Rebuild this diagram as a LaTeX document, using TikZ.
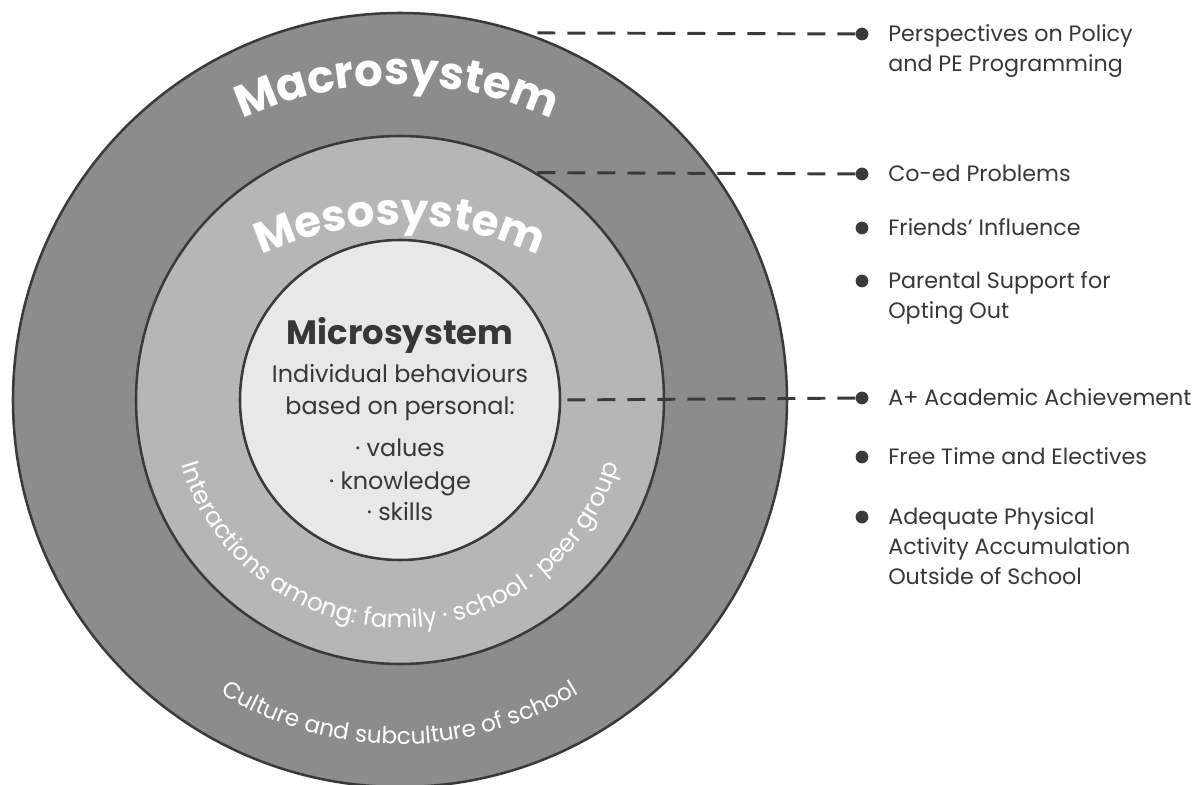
\documentclass[tikz,border=0pt]{standalone}
\usepackage{fontspec}
\setmainfont{Poppins}
\usetikzlibrary{decorations.text}
\definecolor{macrogray}{RGB}{140,140,140}
\definecolor{mesogray}{RGB}{182,182,182}
\definecolor{microgray}{RGB}{232,232,232}
\definecolor{linegray}{RGB}{58,58,58}
\definecolor{textgray}{RGB}{55,55,55}
\begin{document}
\begin{tikzpicture}
\tikzset{ring/.style={draw=linegray, line width=1.8pt, circle, inner sep=0pt},
  dot/.style={circle, fill=linegray, inner sep=0pt, minimum size=0.32cm},
  lbl/.style={anchor=base west, text=textgray, font=\fontsize{15.8}{21.3}\selectfont, align=left, inner sep=0pt},
  inlbl/.style={anchor=base, text=textgray, inner sep=0pt},
  dashline/.style={draw=linegray, line width=2.1pt, dash pattern=on 0.45cm off 0.3cm}}
\useasboundingbox (-10,-9.625) rectangle (19.925,10);
% the three systems
\node[ring, fill=macrogray, minimum size=19.35cm] (macro) at (0,0) {};
\node[ring, fill=mesogray, minimum size=13.2cm] (meso) at (0,0) {};
\node[ring, fill=microgray, minimum size=8cm] (micro) at (0,0) {};
% ring titles
\path[decorate, decoration={text along path, text align=center, text color=white,
  text={|\fontsize{32}{32}\bfseries\selectfont|Macrosystem}}]
  (-0.075,-1.375) ++(135:9.25) arc[start angle=135, end angle=45, radius=9.25];
\path[decorate, decoration={text along path, text align=center, text color=white,
  text={|\fontsize{31}{31}\bfseries\selectfont|Mesosystem}}]
  (0,-3.925) ++(130:8.3) arc[start angle=130, end angle=50, radius=8.3];
\path[decorate, decoration={text along path, text align=center, text color=white,
  text={|\fontsize{17.5}{17.5}\selectfont|Interactions among: family · school · peer group}}]
  (0,0) ++(175:5.7) arc[start angle=175, end angle=365, radius=5.7];
\path[decorate, decoration={text along path, text align=center, text color=white,
  text={|\fontsize{16.5}{16.5}\selectfont|Culture and subculture of school}}]
  (0,0) ++(200:8.6) arc[start angle=200, end angle=340, radius=8.6];
% microsystem text
\node[inlbl, font=\fontsize{24}{24}\bfseries\selectfont] (microtitle) at (0,1.375) {Microsystem};
\node[inlbl, font=\fontsize{17}{17}\selectfont] (indiv) at (0,0.425) {Individual behaviours};
\node[inlbl, font=\fontsize{17}{17}\selectfont] (based) at (0,-0.35) {based on personal:};
\node[inlbl, font=\fontsize{17}{17}\selectfont] (values) at (0,-1.425) {· values};
\node[inlbl, font=\fontsize{17}{17}\selectfont] (know) at (0,-2.25) {· knowledge};
\node[inlbl, font=\fontsize{17}{17}\selectfont] (skills) at (0,-3.0) {· skills};
% bullets
\node[dot] (d1) at (11.55,9.15) {};
\node[dot] (d2) at (11.55,5.65) {};
\node[dot] (d3) at (11.55,4.3) {};
\node[dot] (d4) at (11.55,2.975) {};
\node[dot] (d5) at (11.55,0.05) {};
\node[dot] (d6) at (11.55,-1.425) {};
\node[dot] (d7) at (11.55,-2.925) {};
\node[lbl] (t1) at (12.2,8.21) {Perspectives on Policy\\and PE Programming};
\node[lbl] (t2) at (12.2,5.46) {Co-ed Problems};
\node[lbl] (t3) at (12.2,4.11) {Friends’ Influence};
\node[lbl] (t4) at (12.2,2.035) {Parental Support for\\Opting Out};
\node[lbl] (t5) at (12.2,-0.14) {A+ Academic Achievement};
\node[lbl] (t6) at (12.2,-1.615) {Free Time and Electives};
\node[lbl] (t7) at (12.2,-4.615) {Adequate Physical\\Activity Accumulation\\Outside of School};
% links
\draw[dashline] (d1) -- (macro.71);
\draw[dashline] (d2) -- (meso.59);
\draw[dashline] (d5) -- (micro.0.7);
\end{tikzpicture}
\end{document}
